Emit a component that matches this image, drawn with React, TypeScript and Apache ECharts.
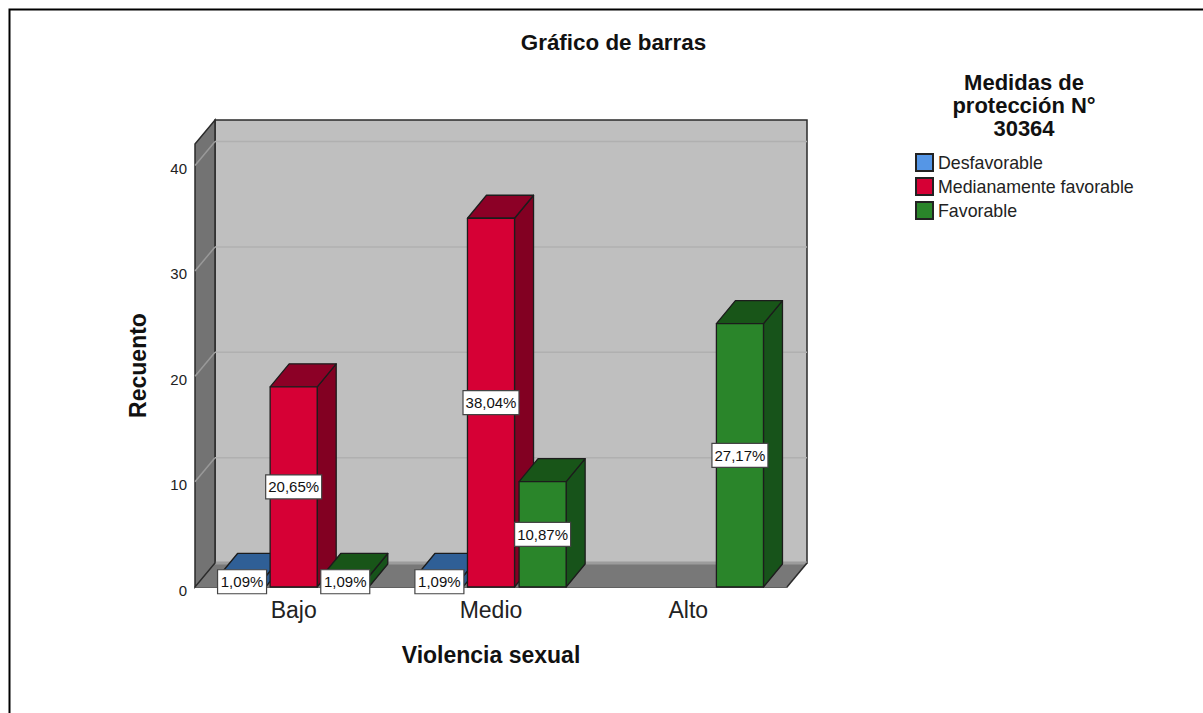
import React, { useEffect, useRef } from "react";
import * as echarts from "echarts";

const categories = ["Bajo", "Medio", "Alto"];
const desfavorable = [1, 1, null];
const medianamente = [19, 35, null];
const favorable = [1, 10, 25];
const pctDesfavorable = ["1,09%", "1,09%", ""];
const pctMedianamente = ["20,65%", "38,04%", ""];
const pctFavorable = ["1,09%", "10,87%", "27,17%"];
const gridTicks = [10, 20, 30, 40];

const FONT = '"Liberation Sans", Arial, sans-serif';
const WALL_DX = 20, WALL_DY = -24, BAR_DX = 19, BAR_DY = -23;
const INK = "#2b2b2b";

function wallItem(params: any, api: any) {
  const r = params.coordSys;
  const L = r.x, B = r.y + r.height, T = r.y, R = r.x + r.width;
  const children: any[] = [];
  const stroke = { stroke: INK, lineWidth: 1.5 };
  children.push({ type: "rect", shape: { x: L + WALL_DX, y: T + WALL_DY, width: r.width, height: r.height }, style: { fill: "#bfbfbf", ...stroke } });
  children.push({ type: "polygon", shape: { points: [[L, B], [L + WALL_DX, B + WALL_DY], [R + WALL_DX, B + WALL_DY], [R, B]] }, style: { fill: "#787878" } });
  children.push({ type: "line", shape: { x1: L + WALL_DX, y1: B + WALL_DY, x2: R + WALL_DX, y2: B + WALL_DY }, style: { stroke: "#9c9c9c", lineWidth: 3 } });
  children.push({ type: "line", shape: { x1: R, y1: B, x2: R + WALL_DX, y2: B + WALL_DY }, style: { ...stroke } });
  children.push({ type: "polygon", shape: { points: [[L, T], [L + WALL_DX, T + WALL_DY], [L + WALL_DX, B + WALL_DY], [L, B]] }, style: { fill: "#737373", ...stroke } });
  gridTicks.forEach((t) => {
    const y = api.coord([0, t])[1];
    children.push({ type: "line", shape: { x1: L + WALL_DX, y1: y + WALL_DY, x2: R + WALL_DX, y2: y + WALL_DY }, style: { stroke: "#b0b0b0", lineWidth: 1.5 } });
    children.push({ type: "line", shape: { x1: L, y1: y, x2: L + WALL_DX, y2: y + WALL_DY }, style: { stroke: "#999999", lineWidth: 1.5 } });
  });
  return { type: "group", children };
}

function barRenderer(slot: number, front: string, side: string, top: string, labels: string[]) {
  return (params: any, api: any) => {
    const idx = api.value(0);
    const val = api.value(1);
    if (val == null || isNaN(val)) return null;
    const band = api.size([1, 0])[0];
    const w = band * 0.2385;
    const base = api.coord([idx, 0]);
    const tip = api.coord([idx, val]);
    const x0 = base[0] + slot * band * 0.2615 - w / 2;
    const x1 = x0 + w;
    const yB = base[1], yT = tip[1];
    const s = { stroke: "#1c1c1c", lineWidth: 1.3, lineJoin: "round" };
    const txt = labels[idx];
    const lh = 24;
    const lw = txt.length > 5 ? 56 : 49;
    const cx = (x0 + x1) / 2, cy = (yB + yT) / 2;
    return {
      type: "group",
      children: [
        { type: "polygon", z2: 10 + slot, shape: { points: [[x1, yT], [x1 + BAR_DX, yT + BAR_DY], [x1 + BAR_DX, yB + BAR_DY], [x1, yB]] }, style: { fill: side, ...s } },
        { type: "polygon", z2: 10 + slot, shape: { points: [[x0, yT], [x0 + BAR_DX, yT + BAR_DY], [x1 + BAR_DX, yT + BAR_DY], [x1, yT]] }, style: { fill: top, ...s } },
        { type: "rect", z2: 10 + slot, shape: { x: x0, y: yT, width: w, height: yB - yT }, style: { fill: front, ...s } },
        { type: "rect", z2: 50, shape: { x: cx - lw / 2, y: cy - lh / 2, width: lw, height: lh }, style: { fill: "#ffffff", stroke: "#444444", lineWidth: 1.2 } },
        { type: "text", z2: 51, style: { text: txt, x: cx, y: cy, align: "center", verticalAlign: "middle", fill: "#111111", font: `15px ${FONT}` } },
      ],
    };
  };
}

const toData = (vals: (number | null)[]) => vals.map((v, i) => [i, v]);

export default function App() {
  const ref = useRef<HTMLDivElement>(null);
  useEffect(() => {
    document.body.style.margin = "0";
    const chart = echarts.init(ref.current!, undefined, { renderer: "svg" });
    chart.setOption({
      animation: false,
      backgroundColor: "#ffffff",
      textStyle: { fontFamily: FONT },
      title: {
        text: "Gráfico de barras", left: 608.5, top: 26, textAlign: "center",
        textStyle: { fontSize: 22.4, fontWeight: "bold", color: "#111", fontFamily: FONT },
      },
      legend: {
        orient: "vertical", left: 915, top: 153, padding: 0, itemWidth: 17, itemHeight: 17, itemGap: 5, icon: "rect",
        data: ["Desfavorable", "Medianamente favorable", "Favorable"],
        textStyle: { fontSize: 17.8, color: "#222", fontFamily: FONT, padding: [0, 0, 0, 0] },
      },
      grid: { left: 195, top: 144, width: 592, height: 443 },
      xAxis: {
        type: "category", data: categories,
        axisLine: { show: true, lineStyle: { color: INK, width: 1.5 } }, axisTick: { show: false },
        axisLabel: { fontSize: 23, color: "#222", margin: 11, fontFamily: FONT },
        name: "Violencia sexual", nameLocation: "middle", nameGap: 56,
        nameTextStyle: { fontSize: 23, fontWeight: "bold", color: "#111", fontFamily: FONT },
      },
      yAxis: {
        type: "value", min: 0, max: 42.05, interval: 10,
        axisLine: { show: false }, axisTick: { show: false }, splitLine: { show: false },
        axisLabel: { fontSize: 15, color: "#222", margin: 8, showMaxLabel: false, fontFamily: FONT, verticalAlign: "top", lineHeight: 6 },
        name: "Recuento", nameLocation: "middle", nameGap: 46,
        nameTextStyle: { fontSize: 23, fontWeight: "bold", color: "#111", fontFamily: FONT },
      },
      graphic: [
        { type: "rect", silent: true, z: -1, shape: { x: 9.5, y: 9.5, width: 1300, height: 800 }, style: { fill: "none", stroke: "#000", lineWidth: 2 } },
        { type: "text", x: 1024, y: 70.5, style: { text: "Medidas de\nprotección N°\n30364", align: "center", font: `bold 22px ${FONT}`, lineHeight: 23, fill: "#111" } },
      ],
      series: [
        { type: "custom", name: "walls", z: 1, silent: true, renderItem: wallItem, data: [[0, 0]], encode: { x: 0, y: 1 } },
        { type: "custom", name: "Desfavorable", z: 2, itemStyle: { color: "#5596e6", borderColor: "#222", borderWidth: 1.2 }, renderItem: barRenderer(-1, "#5596e6", "#2c5a90", "#2f5f96", pctDesfavorable), data: toData(desfavorable), encode: { x: 0, y: 1 } },
        { type: "custom", name: "Medianamente favorable", z: 2, itemStyle: { color: "#d60035", borderColor: "#222", borderWidth: 1.2 }, renderItem: barRenderer(0, "#d60035", "#820022", "#8c0026", pctMedianamente), data: toData(medianamente), encode: { x: 0, y: 1 } },
        { type: "custom", name: "Favorable", z: 2, itemStyle: { color: "#2a852a", borderColor: "#222", borderWidth: 1.2 }, renderItem: barRenderer(1, "#2a852a", "#17531a", "#185518", pctFavorable), data: toData(favorable), encode: { x: 0, y: 1 } },
      ],
    });
    return () => chart.dispose();
  }, []);
  return <div ref={ref} style={{ width: 1203, height: 713 }} />;
}
